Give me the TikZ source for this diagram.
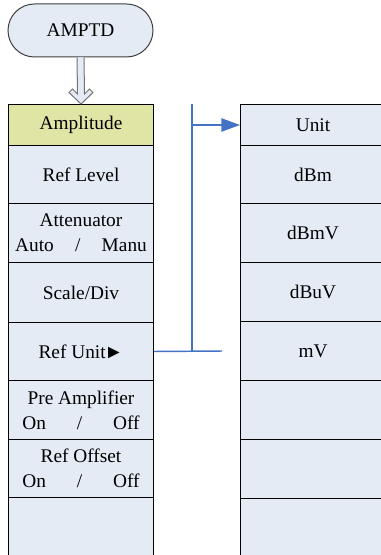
\documentclass[tikz,border=0pt]{standalone}
\usepackage{fontspec}
\setmainfont{Liberation Serif}
\usetikzlibrary{positioning,shapes.misc,arrows.meta,calc}

\definecolor{menublue}{RGB}{228,235,245}
\definecolor{menuhi}{RGB}{224,229,166}
\definecolor{linkblue}{RGB}{68,114,196}

\tikzset{
  hardkey/.style={draw=black!75,rounded rectangle,fill=menublue,line width=0.75pt,
    minimum width=108.75pt,minimum height=39.75pt,inner sep=0pt},
  softkey/.style={draw,rectangle,line width=0.75pt,anchor=north west,align=center,
    minimum width=108.75pt,inner sep=0pt},
  link/.style={draw=linkblue,line width=1.1pt},
  hollow/.style={draw=black!55,fill=menublue,line width=0.75pt}
}

\begin{document}
\begin{tikzpicture}[x=0.75pt,y=-0.75pt,font=\fontsize{14.5}{18.5}\selectfont]
  \useasboundingbox (0,0) rectangle (380,555);
  %\draw[help lines,step=10] (0,0) grid (380,555);

  \node[hardkey] (AMPTD) at (80.5,30.5) {AMPTD};

  % left menu
  \foreach \y/\h/\n/\c/\t in {104/41/L1/menuhi/Amplitude, 145/58/L2/menublue/{Ref Level},
    203/59/L3/menublue/{Attenuator\\Auto\hspace{1.1em}/\hspace{1.1em}Manu},
    262/60/L4/menublue/{Scale/Div}, 322/58/L5/menublue/{Ref Unit\kern-1pt►},
    380/59/L6/menublue/{Pre Amplifier\\On\hspace{1.6em}/\hspace{1.6em}Off},
    439/58/L7/menublue/{Ref Offset\\On\hspace{1.6em}/\hspace{1.6em}Off},
    497/64/L8/menublue/{}}
  \node[softkey,fill=\c,minimum height=\h*0.75pt] (\n) at (8,\y) {\t};

  % right menu
  \foreach \y/\h/\n/\t in {104/41/R1/Unit, 145/58/R2/dBm, 203/59/R3/dBmV,
    262/59/R4/dBuV, 321/59/R5/mV, 380/59/R6/{}, 439/59/R7/{}, 498/64/R8/{}}
  \node[softkey,fill=menublue,minimum height=\h*0.75pt] (\n) at (240,\y) {\t};

  \draw[hollow] ($(AMPTD.south)+(-3.5,0)$) -- ($(L1.north)+(-3.5,-10)$)
    -- ($(L1.north)+(-8.5,-15)$) -- ($(L1.north)+(-12,-11.5)$) -- (L1.north)
    -- ($(L1.north)+(12,-11.5)$) -- ($(L1.north)+(8.5,-15)$)
    -- ($(L1.north)+(3.5,-10)$) -- ($(AMPTD.south)+(3.5,0)$);

  \coordinate (bustop) at (192,104);
  \coordinate (busbot) at (192,351);
  \coordinate (stub) at (222,351);
  \draw[link] (bustop) -- (busbot);
  \draw[link] (L5.east) -- (stub);
  \draw[link,-{Triangle[length=14pt,width=10pt]}] (bustop |- R1) -- (R1.west);

\end{tikzpicture}
\end{document}
